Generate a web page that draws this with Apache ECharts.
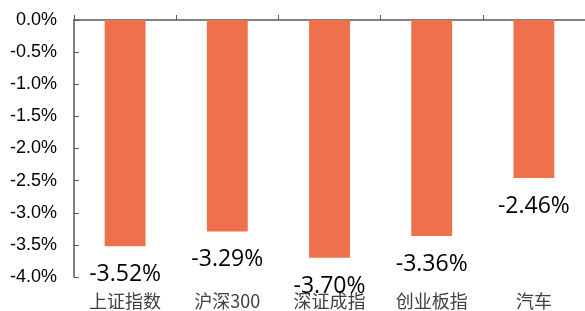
<!DOCTYPE html>
<html>
<head>
<meta charset="utf-8">
<script src="https://cdn.jsdelivr.net/npm/echarts@6/dist/echarts.min.js"></script>
<style>
html, body { margin: 0; padding: 0; background: #fff; }
#chart { width: 585px; height: 311px; }
</style>
</head>
<body>
<div id="chart"></div>
<script>
"use strict";

/*****Data*****/
var categories = ['上证指数', '沪深300', '深证成指', '创业板指', '汽车'];
var changes = [-3.52, -3.29, -3.70, -3.36, -2.46];
var yTicks = [0, -0.5, -1.0, -1.5, -2.0, -2.5, -3.0, -3.5, -4.0];

var chart = echarts.init(document.getElementById('chart'));
var option = {
	animation: false,
	grid: {
		left: 74,
		top: 20,
		width: 515,
		height: 257
	},
	xAxis: [
		{
			type: 'category',
			data: categories,
			position: 'top',
			axisLine: { onZero: false, lineStyle: { color: '#595959', width: 1.5 } },
			axisTick: { show: true, length: 5, lineStyle: { color: '#595959' } },
			axisLabel: { show: false }
		},
		{
			type: 'category',
			data: categories,
			position: 'bottom',
			axisLine: { show: false, onZero: false },
			axisTick: { show: false },
			axisLabel: {
				margin: 15,
				color: '#404040',
				fontSize: 18,
				fontFamily: 'Noto Sans CJK SC'
			}
		}
	],
	yAxis: {
		type: 'value',
		min: -4,
		max: 0,
		interval: 0.5,
		splitLine: { show: false },
		axisLine: { show: true, lineStyle: { color: '#595959', width: 1.5 } },
		axisTick: { show: true, inside: true, length: 5, lineStyle: { color: '#595959' } },
		axisLabel: {
			margin: 17,
			color: '#000',
			fontSize: 18,
			fontFamily: 'Liberation Sans',
			formatter: function (v) { return v.toFixed(1) + '%'; }
		}
	},
	series: [{
		type: 'bar',
		xAxisIndex: 0,
		data: changes,
		barWidth: '40%',
		itemStyle: { color: '#EE714C' },
		label: {
			show: true,
			position: 'bottom',
			distance: 17,
			color: '#000',
			fontSize: 23,
			fontFamily: 'Open Sans',
			formatter: function (p) { return p.value.toFixed(2) + '%'; }
		}
	}]
};
chart.setOption(option);
</script>
</body>
</html>
